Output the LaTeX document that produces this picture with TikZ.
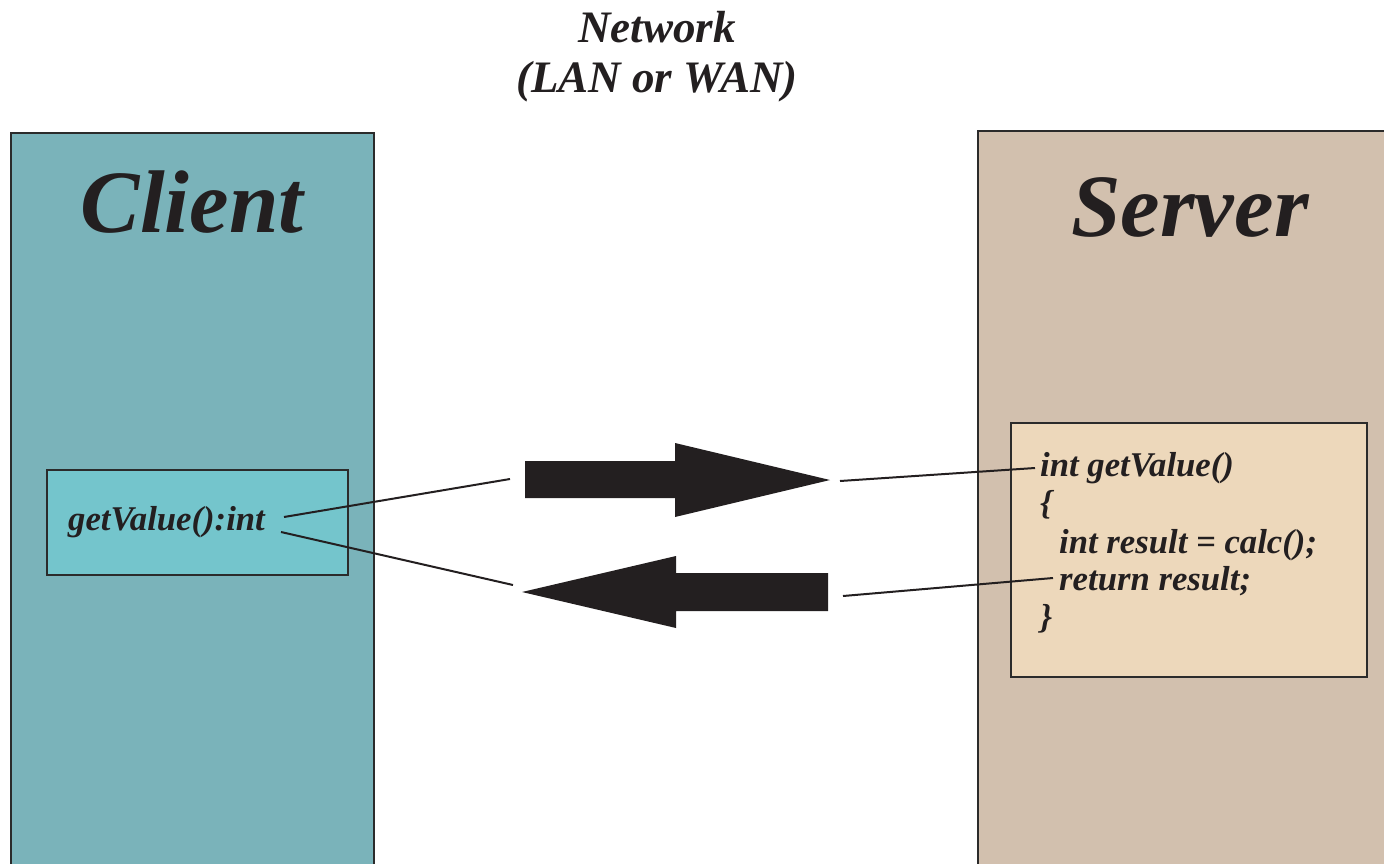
\documentclass[tikz,border=0pt]{standalone}
\usepackage{fontspec}
\setmainfont{Liberation Serif}
\definecolor{clientbg}{HTML}{7AB3BA}
\definecolor{clientin}{HTML}{74C5CC}
\definecolor{serverbg}{HTML}{D2C0AE}
\definecolor{serverin}{HTML}{EDD8BB}
\definecolor{ink}{HTML}{231F20}
\definecolor{frame}{HTML}{2B2B2B}
\tikzset{
  panel/.style={draw=frame, line width=2pt},
  conn/.style={draw=ink, line width=2pt},
  bigarrow/.style={fill=ink},
  txt/.style={inner sep=0pt, text=ink, font=\bfseries\itshape\fontsize{34.7}{38}\selectfont},
  codeline/.style={txt, anchor=base west},
  nettxt/.style={inner sep=0pt, text=ink, anchor=base, font=\bfseries\itshape\fontsize{45}{50}\selectfont},
  titletxt/.style={inner sep=0pt, text=ink, font=\bfseries\itshape\fontsize{89}{100}\selectfont, anchor=base},
}
\begin{document}
\begin{tikzpicture}[x=1pt,y=-1pt]
\useasboundingbox (0,0) rectangle (1384,863);
% panels
\path[panel, fill=clientbg] (11,133) rectangle (374,870);
\path[panel, fill=serverbg] (978,131) rectangle (1390,870);
\node[titletxt] (client) at (192,232) {Client};
\node[titletxt] (server) at (1190,236) {Server};
% title
\node[nettxt] (net1) at (657,42) {Network};
\node[nettxt] (net2) at (657,92) {(LAN or WAN)};
% inner boxes
\path[panel, fill=clientin] (47,470) rectangle (348,575);
\path[panel, fill=serverin] (1011,423) rectangle (1367,677);
\node[codeline] (cv) at (68,530) {getValue():int};
\node[codeline] (s1) at (1040,476) {int getValue()};
\node[codeline] (s2) at (1040,514) {\{};
\node[codeline] (s3) at (1059,553) {int result = calc();};
\node[codeline] (s4) at (1059,590) {return result;};
\node[codeline] (s5) at (1040,628) {\}};
% big arrows
\fill[bigarrow] (525,461) -- (675,461) -- (675,443) -- (830,480) -- (675,517) -- (675,498) -- (525,498) -- cycle;
\fill[bigarrow] (522,592) -- (676,556) -- (676,573) -- (828,573) -- (828,611) -- (676,611) -- (676,628) -- cycle;
% connector ends
\coordinate (a1) at (284,517);
\coordinate (a2) at (510,479);
\coordinate (b1) at (281,532);
\coordinate (b2) at (513,585);
\coordinate (c1) at (840,481);
\coordinate (c2) at (1035,468);
\coordinate (d1) at (843,596);
\coordinate (d2) at (1053,578);
\draw[conn] (a1) -- (a2);
\draw[conn] (b1) -- (b2);
\draw[conn] (c1) -- (c2);
\draw[conn] (d1) -- (d2);
\end{tikzpicture}
\end{document}
